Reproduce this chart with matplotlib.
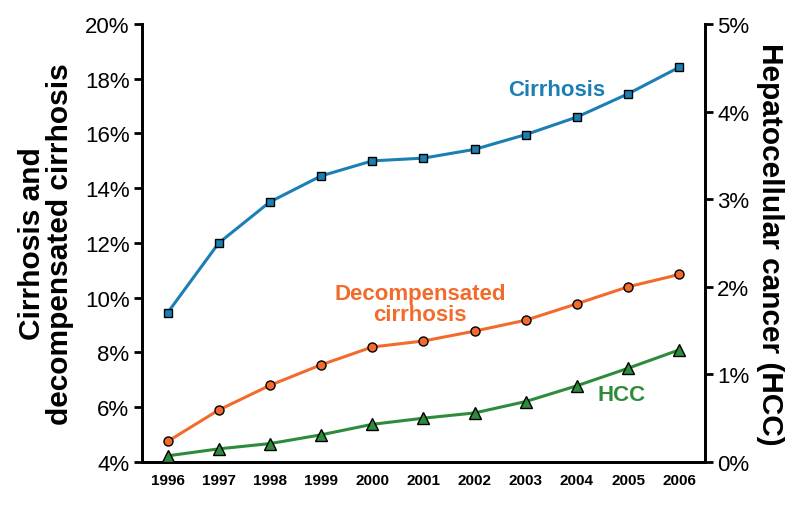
import matplotlib.pyplot as plt
from matplotlib.ticker import FuncFormatter

plt.rcParams['font.family'] = ['Liberation Sans', 'DejaVu Sans']

years = [1996, 1997, 1998, 1999, 2000, 2001, 2002, 2003, 2004, 2005, 2006]
cirrhosis = [9.45, 12.0, 13.5, 14.45, 15.0, 15.1, 15.42, 15.96, 16.6, 17.45, 18.42]
decompensated = [4.75, 5.9, 6.8, 7.55, 8.2, 8.42, 8.78, 9.18, 9.78, 10.4, 10.85]
hcc = [0.07, 0.15, 0.21, 0.31, 0.43, 0.50, 0.56, 0.69, 0.87, 1.07, 1.28]

blue = '#1a7fb3'
orange = '#f26b2c'
green = '#2e8b3c'

fig = plt.figure(figsize=(8, 5.06), dpi=100)
ax1 = fig.add_axes([0.1775, 0.085, 0.7035, 0.8656])
ax2 = ax1.twinx()

ax1.plot(years, cirrhosis, '-s', color=blue, linewidth=2.2, markersize=6,
         markerfacecolor=blue, markeredgecolor='black', markeredgewidth=1, zorder=3)
ax1.plot(years, decompensated, '-o', color=orange, linewidth=2.2, markersize=6.5,
         markerfacecolor=orange, markeredgecolor='black', markeredgewidth=1, zorder=3)
ax2.plot(years, hcc, '-^', color=green, linewidth=2.2, markersize=8,
         markerfacecolor=green, markeredgecolor='black', markeredgewidth=1, zorder=3)

ax1.set_xlim(1995.5, 2006.5)
ax1.set_ylim(4, 20)
ax2.set_ylim(0, 5)
ax1.set_xticks(years)
ax1.set_xticklabels([str(y) for y in years], fontweight='bold', fontsize=11)
ax1.set_yticks(range(4, 21, 2))
ax2.set_yticks(range(0, 6))
pct = FuncFormatter(lambda v, p: f'{int(v)}%')
ax1.yaxis.set_major_formatter(pct)
ax2.yaxis.set_major_formatter(pct)

for ax in (ax1, ax2):
    ax.spines['top'].set_visible(False)
    for s in ('left', 'right', 'bottom'):
        ax.spines[s].set_linewidth(2)
ax1.tick_params(axis='y', labelsize=16, width=2, length=6, direction='out', pad=3)
ax2.tick_params(axis='y', labelsize=16, width=2, length=6, direction='out', pad=3)
ax1.tick_params(axis='x', length=0, pad=8)

ax1.set_ylabel('Cirrhosis and\ndecompensated cirrhosis', fontsize=21.5, fontweight='bold',
               labelpad=8, linespacing=1.0)
ax2.set_ylabel('Hepatocellular cancer (HCC)', fontsize=21.5, fontweight='bold',
               rotation=270, labelpad=25)

ax1.text(2003.6, 17.6, 'Cirrhosis', color=blue, fontsize=16, fontweight='bold',
         ha='center', va='center')
ax1.text(2000.93, 9.77, 'Decompensated\ncirrhosis', color=orange, fontsize=16,
         fontweight='bold', ha='center', va='center', linespacing=1.0)
ax1.text(2004.87, 6.48, 'HCC', color=green, fontsize=16, fontweight='bold',
         ha='center', va='center')

plt.savefig('out.png', dpi=100)
